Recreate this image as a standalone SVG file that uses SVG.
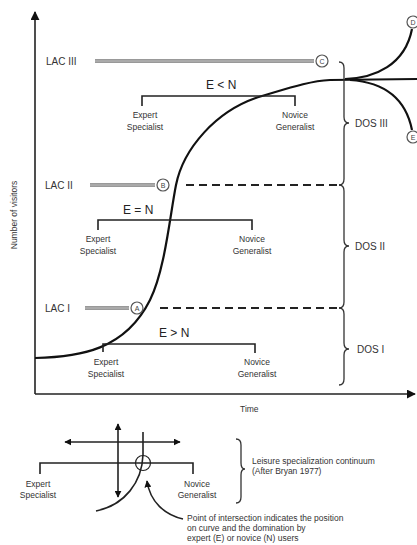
<svg xmlns="http://www.w3.org/2000/svg" width="417" height="545" viewBox="0 0 417 545">
<defs>
<style>
text{font-family:"Liberation Sans",Arial,sans-serif;fill:#333}
.s{font-size:8.5px}
.lac{font-size:10px}
.en{font-size:12px;fill:#222}
.dos{font-size:10px}
.ln{fill:none;stroke:#222;stroke-width:1.6}
.dbl{fill:none;stroke:#777;stroke-width:3.4}
.dbl2{fill:none;stroke:#ddd;stroke-width:1}
.dash{fill:none;stroke:#222;stroke-width:1.8;stroke-dasharray:8,5}
.curve{fill:none;stroke:#111;stroke-width:2.2}
.brace{fill:none;stroke:#333;stroke-width:1.3}
.circ{fill:#fff;stroke:#555;stroke-width:1.2}
.cl{font-size:7px;text-anchor:middle;fill:#444}
</style>
<marker id="ah" viewBox="0 0 10 10" refX="9" refY="5" markerWidth="7" markerHeight="7" orient="auto-start-reverse" markerUnits="userSpaceOnUse">
<path d="M0,0 L10,5 L0,10 z" fill="#111"/>
</marker>
<marker id="ahs" viewBox="0 0 10 10" refX="9" refY="5" markerWidth="9" markerHeight="9" orient="auto-start-reverse" markerUnits="userSpaceOnUse">
<path d="M0,0 L10,5 L0,10 z" fill="#111"/>
</marker>
</defs>
<rect width="417" height="545" fill="#fff"/>

<g id="connectors">
<!-- axes -->
<line class="ln" x1="35" y1="394" x2="35" y2="12" stroke-width="2" marker-end="url(#ahs)"/>
<line class="ln" x1="35" y1="394" x2="415" y2="394" stroke-width="2" marker-end="url(#ahs)"/>
<!-- S curve -->
<path class="curve" d="M35,358 C80,357 125,350 150,300 C165,270 170,215 176,185 C183,150 215,110 262,96 C290,87.7 310,81 330,80 L417,79"/>
<path class="curve" d="M345,79 C375,78 405,65 412,29"/>
<path class="curve" d="M350,80 C380,82 405,95 412,130"/>
<!-- LAC lines -->
<line class="dbl" x1="95" y1="61" x2="314" y2="61"/>
<line class="dbl2" x1="95" y1="61" x2="314" y2="61"/>
<line class="dbl" x1="90" y1="185" x2="155" y2="185"/>
<line class="dbl2" x1="90" y1="185" x2="155" y2="185"/>
<line class="dbl" x1="85" y1="308" x2="129" y2="308"/>
<line class="dbl2" x1="85" y1="308" x2="129" y2="308"/>
<line class="dash" x1="186" y1="185" x2="340" y2="185"/>
<line class="dash" x1="160" y1="308" x2="340" y2="308"/>
<!-- brackets -->
<path class="ln" d="M142,106 V96 H295 V106"/>
<path class="ln" d="M98,230 V220 H252 V230"/>
<path class="ln" d="M103,352 V344 H255 V353"/>
<!-- braces -->
<path class="brace" d="M339,62 q5,0 5,6 V117 q0,6 5,6 q-5,0 -5,6 V179 q0,6 -5,6"/>
<path class="brace" d="M339,185 q5,0 5,6 V240 q0,6 5,6 q-5,0 -5,6 V302 q0,6 -5,6"/>
<path class="brace" d="M339,308 q5,0 5,6 V343 q0,6 5,6 q-5,0 -5,6 V379 q0,6 -5,6"/>
<path class="brace" d="M236,439 q5,0 5,6 V463 q0,6 4,6 q-4,0 -4,6 V497 q0,6 -5,6"/>
<!-- legend -->
<line class="ln" x1="118" y1="442" x2="65" y2="442" marker-end="url(#ah)"/>
<line class="ln" x1="118" y1="442" x2="180" y2="442" marker-end="url(#ah)"/>
<line class="ln" x1="118" y1="460" x2="118" y2="424" marker-end="url(#ah)"/>
<line class="ln" x1="118" y1="460" x2="118" y2="497" marker-end="url(#ah)"/>
<path class="ln" d="M40,474 V463 H193 V474"/>
<path class="ln" d="M143,432 L143,455 C142,482 125,505 96,511"/>
<path class="ln" d="M183,519 C165,515 150,502 147,481" marker-end="url(#ah)"/>
</g>

<g id="axis-labels">
<text class="s" transform="translate(17,215) rotate(-90)" text-anchor="middle">Number of visitors</text>
<text class="s" x="240" y="412">Time</text>
</g>

<g id="lac3">
<text class="lac" x="46" y="65">LAC III</text>
<circle class="circ" cx="322" cy="61" r="6"/>
<text class="cl" x="322" y="63.5">C</text>
</g>
<g id="lac2">
<text class="lac" x="45" y="189">LAC II</text>
<circle class="circ" cx="163" cy="185" r="6"/>
<text class="cl" x="163" y="187.5">B</text>
</g>
<g id="lac1">
<text class="lac" x="45" y="312">LAC I</text>
<circle class="circ" cx="137" cy="308" r="6"/>
<text class="cl" x="137" y="310.5">A</text>
</g>
<g id="end-circles">
<circle class="circ" cx="413" cy="22" r="6"/>
<text class="cl" x="413" y="24.5">D</text>
<circle class="circ" cx="413" cy="137" r="6"/>
<text class="cl" x="413" y="139.5">E</text>
</g>

<g id="stage3">
<text class="en" x="206" y="89">E &lt; N</text>
<text class="s" x="145" y="118" text-anchor="middle">Expert</text>
<text class="s" x="145" y="130" text-anchor="middle">Specialist</text>
<text class="s" x="295" y="118" text-anchor="middle">Novice</text>
<text class="s" x="295" y="130" text-anchor="middle">Generalist</text>
</g>
<g id="stage2">
<text class="en" x="123" y="214">E = N</text>
<text class="s" x="98" y="242" text-anchor="middle">Expert</text>
<text class="s" x="98" y="254" text-anchor="middle">Specialist</text>
<text class="s" x="252" y="242" text-anchor="middle">Novice</text>
<text class="s" x="252" y="254" text-anchor="middle">Generalist</text>
</g>
<g id="stage1">
<text class="en" x="159" y="337">E &gt; N</text>
<text class="s" x="106" y="365" text-anchor="middle">Expert</text>
<text class="s" x="106" y="377" text-anchor="middle">Specialist</text>
<text class="s" x="257" y="365" text-anchor="middle">Novice</text>
<text class="s" x="257" y="377" text-anchor="middle">Generalist</text>
</g>

<g id="dos">
<text class="dos" x="355" y="127">DOS III</text>
<text class="dos" x="355" y="250">DOS II</text>
<text class="dos" x="357" y="353">DOS I</text>
</g>

<g id="legend">
<circle cx="143" cy="463" r="7.5" fill="none" stroke="#222" stroke-width="1.2"/>
<text class="s" x="38" y="487" text-anchor="middle">Expert</text>
<text class="s" x="38" y="498" text-anchor="middle">Specialist</text>
<text class="s" x="197" y="487" text-anchor="middle">Novice</text>
<text class="s" x="197" y="498" text-anchor="middle">Generalist</text>
<text class="s" x="252" y="464" font-size="7.5">Leisure specialization continuum</text>
<text class="s" x="252" y="474" font-size="7.5">(After Bryan 1977)</text>
<text class="s" x="187" y="521" font-size="7">Point of intersection indicates the position</text>
<text class="s" x="187" y="531" font-size="7">on curve and the domination by</text>
<text class="s" x="187" y="541" font-size="7">expert (E) or novice (N) users</text>
</g>
</svg>
